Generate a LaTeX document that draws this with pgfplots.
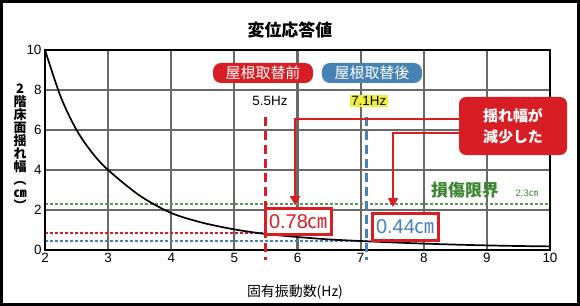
\documentclass[border=0pt]{standalone}
\usepackage{pgfplots}
\pgfplotsset{compat=1.18}
\usepackage{fontspec}
\setmainfont{Liberation Sans}
\newfontfamily\jp{Noto Sans CJK JP}
\usetikzlibrary{arrows.meta}
\definecolor{myred}{RGB}{214,30,36}
\definecolor{myblue}{RGB}{70,130,180}
\definecolor{mygreen}{RGB}{60,135,50}
\definecolor{mygrid}{RGB}{105,105,105}
\definecolor{myyellow}{RGB}{240,240,60}
\begin{document}
\begin{tikzpicture}
\fill[white] (-45bp,-56bp) rectangle (535bp,250bp);
\useasboundingbox (-45bp,-56bp) rectangle (535bp,250bp);
\begin{axis}[
 at={(0,0)}, anchor=south west,
 scale only axis, width=505bp, height=200bp,
 xmin=2, xmax=10, ymin=0, ymax=10,
 xtick={2,...,10}, ytick={0,2,...,10},
 grid=major, major grid style={mygrid, line width=2.2bp},
 axis line style={black, line width=2.5bp},
 tick style={draw=none},
 ticklabel style={font=\fontsize{13.5}{13.5}\selectfont},
 /pgf/number format/assume math mode=true,
 clip=false,
]
% damage limit and levels
\addplot[mygreen!85!white, line width=1.3bp, dash pattern=on 3bp off 2bp] coordinates {(2,2.3) (10,2.3)};
\addplot[myred, line width=1.3bp, dash pattern=on 3bp off 2bp] coordinates {(2,0.85) (5.5,0.85)};
\addplot[myblue, line width=1.3bp, dash pattern=on 3bp off 2bp] coordinates {(2,0.45) (7.1,0.45)};
% response curve
\addplot[black, line width=1.7bp, smooth] coordinates {
(2.0,10) (2.25,7.65) (2.5,6.0) (2.75,4.85) (3.0,4.0) (3.5,2.72) (4.0,1.85)
(4.5,1.36) (5.0,1.03) (5.5,0.80) (6.0,0.65) (6.5,0.53) (7.0,0.45) (7.5,0.38)
(8.0,0.32) (8.5,0.27) (9.0,0.23) (9.5,0.20) (10.0,0.18)};
% axis frame
\draw[black, line width=2.8bp] (rel axis cs:0,0) rectangle (rel axis cs:1,1);
% natural frequencies
\addplot[myred, line width=3bp, dash pattern=on 9bp off 5bp] coordinates {(5.5,6.67) (5.5,-0.5)};
\addplot[myblue, line width=3bp, dash pattern=on 9bp off 5bp] coordinates {(7.1,6.67) (7.1,-0.5)};
% labels
\node[font=\fontsize{13.5}{13.5}\selectfont] at (axis cs:5.565,7.45) {5.5Hz};
\node[font=\fontsize{13.5}{13.5}\selectfont, fill=myyellow, inner sep=1.5bp] at (axis cs:7.13,7.45) {7.1Hz};
\node[fill=myred, rounded corners=8bp, minimum width=100bp, minimum height=20bp, inner sep=0pt, text=white, font=\jp\fontsize{15}{15}\selectfont] at (axis cs:5.454,8.85) {屋根取替前};
\node[fill=myblue, rounded corners=8bp, minimum width=100bp, minimum height=20bp, inner sep=0pt, text=white, font=\jp\fontsize{15}{15}\selectfont] at (axis cs:7.18,8.85) {屋根取替後};
% arrows
\draw[myred, line width=2.5bp, -{Triangle[length=9bp,width=10bp]}] (axis cs:8.6,6.55) -- (axis cs:5.96,6.55) -- (axis cs:5.96,2.25);
\draw[myred, line width=2.5bp, -{Triangle[length=9bp,width=10bp]}] (axis cs:8.6,5.85) -- (axis cs:7.513,5.85) -- (axis cs:7.513,2.15);
\node[fill=myred, rounded corners=7bp, minimum width=108bp, minimum height=58bp, inner sep=0pt, text=white, align=center, font=\jp\bfseries\fontsize{15}{21}\selectfont] at (axis cs:9.414,6.2) {揺れ幅が\\減少した};
% values
\node[fill=white, draw=myred, line width=3bp, minimum width=66bp, minimum height=26bp, inner sep=1bp, text=myred, font=\fontsize{20}{20}\selectfont] at (axis cs:6.015,1.425) {0.78{\jp ㎝}};
\node[fill=white, draw=myred, line width=3bp, minimum width=66bp, minimum height=27bp, inner sep=1bp, text=myblue, font=\fontsize{20}{20}\selectfont] at (axis cs:7.71,1.15) {0.44{\jp ㎝}};
\node[text=mygreen, font=\jp\bfseries\fontsize{17}{17}\selectfont] at (axis cs:8.654,3.0) {損傷限界};
\node[text=mygreen, font=\fontsize{9.5}{9.5}\selectfont] at (axis cs:9.636,2.85) {2.3{\jp ㎝}};
% titles
\node[font=\jp\bfseries\fontsize{17}{17}\selectfont] at (axis cs:5.88,11.0) {変位応答値};
\node[font=\jp\fontsize{14}{14}\selectfont] at (axis cs:5.96,-2.1) {固有振動数(Hz)};
\node[font=\jp\bfseries\fontsize{13}{13}\selectfont, align=center, inner sep=0pt] at (axis cs:1.604,5.15) {2\\階\\床\\面\\揺\\れ\\幅\\︵\\㎝\\︶};
\end{axis}
\draw[black, line width=3bp] (-43.5bp,-54.5bp) rectangle (533.5bp,248.5bp);
\end{tikzpicture}
\end{document}
